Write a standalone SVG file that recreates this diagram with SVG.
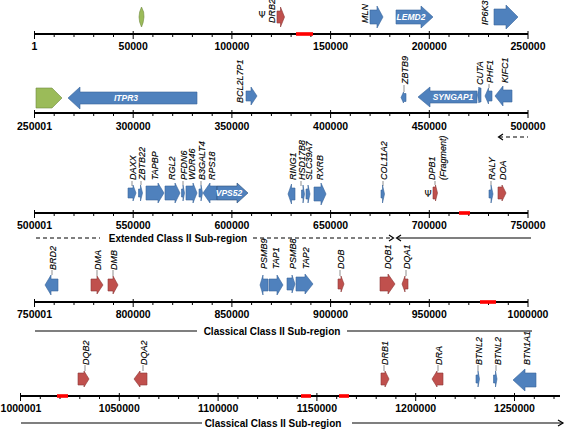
<svg xmlns="http://www.w3.org/2000/svg" width="567" height="430" viewBox="0 0 567 430">
<style>
.bg{fill:#fff}
.ax{stroke:#000;stroke-width:2;fill:none}
.tk{stroke:#000;stroke-width:1;fill:none}
.num{font-family:"Liberation Sans",Arial,sans-serif;font-weight:bold;font-size:10.5px;text-anchor:middle;fill:#000}
.lab{font-family:"Liberation Sans",Arial,sans-serif;font-style:italic;font-size:9px;fill:#000;stroke:#000;stroke-width:0.15}
.in{font-family:"Liberation Sans",Arial,sans-serif;font-style:italic;font-weight:bold;font-size:8.5px;fill:#fff;text-anchor:middle}
.psi{font-family:"DejaVu Sans",sans-serif;font-size:9px;text-anchor:middle;fill:#000}
.reg{font-family:"Liberation Sans",Arial,sans-serif;font-weight:bold;font-size:10px;text-anchor:middle;fill:#000}
.b{fill:#4F81BD;stroke:#3A679C;stroke-width:0.6}
.r{fill:#C0504D;stroke:#8C3836;stroke-width:0.6}
.g{fill:#9BBB59;stroke:#71893F;stroke-width:0.6}
.rb{fill:#FF0000}
.ld{stroke:#444;stroke-width:0.6}
.sl{stroke:#000;stroke-width:1.2;fill:none}
.ds{stroke:#000;stroke-width:1.2;fill:none;stroke-dasharray:4 3}
</style>
<defs>
<g id="scale">
<path class="ax" d="M34.5,0 H528"/>
<path class="tk" d="M34.5,-3 v8 M133.2,-3 v8 M231.9,-3 v8 M330.6,-3 v8 M429.3,-3 v8 M528,-3 v8 M54.2,0 v3 M74,0 v3 M93.7,0 v3 M113.5,0 v3 M152.9,0 v3 M172.7,0 v3 M192.4,0 v3 M212.2,0 v3 M251.6,0 v3 M271.4,0 v3 M291.1,0 v3 M310.9,0 v3 M350.3,0 v3 M370.1,0 v3 M389.8,0 v3 M409.6,0 v3 M449,0 v3 M468.8,0 v3 M488.5,0 v3 M508.3,0 v3"/>
</g>
</defs>
<rect class="bg" x="0" y="0" width="567" height="430"/>

<g id="axes">
<use href="#scale" transform="translate(0,34)"/>
<use href="#scale" transform="translate(0,113)"/>
<use href="#scale" transform="translate(0,213)"/>
<use href="#scale" transform="translate(0,302)"/>
<path class="ax" d="M20.5,396 H560"/>
<path class="tk" d="M20.5,393 v8 M119.3,393 v8 M218.1,393 v8 M316.9,393 v8 M415.7,393 v8 M514.5,393 v8 M40.3,396 v3 M60,396 v3 M79.8,396 v3 M99.5,396 v3 M139.1,396 v3 M158.8,396 v3 M178.6,396 v3 M198.3,396 v3 M237.9,396 v3 M257.6,396 v3 M277.4,396 v3 M297.1,396 v3 M336.7,396 v3 M356.4,396 v3 M376.2,396 v3 M395.9,396 v3 M435.5,396 v3 M455.2,396 v3 M475,396 v3 M494.7,396 v3 M534.3,396 v3 M554,396 v3"/>
</g>

<g id="numbers">
<text class="num" x="34.5" y="50">1</text>
<text class="num" x="133.2" y="50">50000</text>
<text class="num" x="231.9" y="50">100000</text>
<text class="num" x="330.6" y="50">150000</text>
<text class="num" x="429.3" y="50">200000</text>
<text class="num" x="528" y="50">250000</text>
<text class="num" x="34.5" y="130">250001</text>
<text class="num" x="133.2" y="130">300000</text>
<text class="num" x="231.9" y="130">350000</text>
<text class="num" x="330.6" y="130">400000</text>
<text class="num" x="429.3" y="130">450000</text>
<text class="num" x="528" y="130">500000</text>
<text class="num" x="34.5" y="229">500001</text>
<text class="num" x="133.2" y="229">550000</text>
<text class="num" x="231.9" y="229">600000</text>
<text class="num" x="330.6" y="229">650000</text>
<text class="num" x="429.3" y="229">700000</text>
<text class="num" x="528" y="229">750000</text>
<text class="num" x="34.5" y="318">750001</text>
<text class="num" x="133.2" y="318">800000</text>
<text class="num" x="231.9" y="318">850000</text>
<text class="num" x="330.6" y="318">900000</text>
<text class="num" x="429.3" y="318">950000</text>
<text class="num" x="528" y="318">1000000</text>
<text class="num" x="21" y="412">1000001</text>
<text class="num" x="119.3" y="412">1050000</text>
<text class="num" x="218.1" y="412">1100000</text>
<text class="num" x="316.9" y="412">1150000</text>
<text class="num" x="415.7" y="412">1200000</text>
<text class="num" x="514.5" y="412">1250000</text>
</g>

<g id="redbars">
<rect class="rb" x="296" y="32.2" width="17" height="3.6"/>
<rect class="rb" x="459" y="211.2" width="11" height="3.6"/>
<rect class="rb" x="480" y="300.2" width="16" height="3.6"/>
<rect class="rb" x="57" y="394.2" width="11" height="3.6"/>
<rect class="rb" x="301" y="394.2" width="10" height="3.6"/>
<rect class="rb" x="339" y="394.2" width="10" height="3.6"/>
</g>

<!-- Row 1 -->
<g id="g-green1"><path class="g" d="M141.5,7 Q144.5,12 144,17 Q143.5,23 141.5,27 Q139,22 139,17 Q139,12 141.5,7 Z"/></g>
<g id="g-DRB2">
<text class="psi" x="262" y="18">Ψ</text>
<text class="lab" transform="translate(275,23) rotate(-90)">DRB2</text>
<polygon class="r" points="277,11 280.5,11 280.5,7 284.5,17 280.5,27 280.5,23 277,23"/>
</g>
<g id="g-MLN">
<text class="lab" transform="translate(367.5,23) rotate(-90)">MLN</text>
<polygon class="b" points="370,10 377,10 377,6 383,17 377,28 377,24 370,24"/>
</g>
<g id="g-LEMD2">
<polygon class="b" points="396,10 421,10 421,6 433,17 421,28 421,24 396,24"/>
<text class="in" x="411" y="20">LEMD2</text>
</g>
<g id="g-IP6K3">
<text class="lab" transform="translate(487.5,25) rotate(-90)">IP6K3</text>
<polygon class="b" points="494,9 506,9 506,5 518,17 506,29 506,25 494,25"/>
</g>

<!-- Row 2 -->
<g id="g-green2"><path class="g" d="M36,88 L52,88 L62,98 L52,108 L36,108 Z"/></g>
<g id="g-ITPR3">
<polygon class="b" points="68,98 80,87 80,92 197,92 197,104 80,104 80,109"/>
<text class="in" x="126" y="101">ITPR3</text>
</g>
<g id="g-BCL2L7P1">
<text class="lab" transform="translate(242.5,103) rotate(-90)">BCL2L7P1</text>
<polygon class="b" points="246,91 251,91 251,87 257,96 251,105 251,101 246,101"/>
</g>
<g id="g-ZBTB9">
<text class="lab" transform="translate(407.5,84) rotate(-90)">ZBTB9</text>
<line class="ld" x1="404" y1="85" x2="404" y2="92"/>
<polygon class="b" points="401,97.5 403.5,92 403.5,93.5 406,93.5 406,101.5 403.5,101.5 403.5,103"/>
</g>
<g id="g-SYNGAP1">
<polygon class="b" points="418,97 430,87 430,91 477,91 477,103 430,103 430,107"/>
<text class="in" x="453" y="100">SYNGAP1</text>
</g>
<g id="g-CUTA">
<text class="lab" transform="translate(482.5,85) rotate(-90)">CUTA</text>
<polygon class="b" points="477.5,95 479,87 479,88 481,88 481,102 479,102 479,103"/>
</g>
<g id="g-PHF1">
<text class="lab" transform="translate(492.5,83) rotate(-90)">PHF1</text>
<line class="ld" x1="489" y1="84" x2="489" y2="88"/>
<polygon class="b" points="485,96 488.5,88 488.5,91 492,91 492,101 488.5,101 488.5,104"/>
</g>
<g id="g-KIFC1">
<text class="lab" transform="translate(507.5,83) rotate(-90)">KIFC1</text>
<polygon class="b" points="495,96 503,86 503,90 512,90 512,102 503,102 503,106"/>
</g>

<!-- Row 3 -->
<g id="g-DAXX">
<text class="lab" transform="translate(135.5,180) rotate(-90)">DAXX</text>
<line class="ld" x1="132" y1="181" x2="132" y2="186"/>
<polygon class="b" points="128,188 133,188 133,185 136,193 133,201 133,198 128,198"/>
</g>
<g id="g-ZBTB22">
<text class="lab" transform="translate(144.5,180) rotate(-90)">ZBTB22</text>
<line class="ld" x1="141" y1="181" x2="141" y2="185"/>
<polygon class="b" points="138.5,189 140.5,189 140.5,185 142.5,193 140.5,201 140.5,197 138.5,197"/>
</g>
<g id="g-TAPBP">
<text class="lab" transform="translate(157.5,180) rotate(-90)">TAPBP</text>
<polygon class="b" points="146,186 158,186 158,183 164,193 158,203 158,200 146,200"/>
</g>
<g id="g-RGL2">
<text class="lab" transform="translate(174.5,180) rotate(-90)">RGL2</text>
<polygon class="b" points="165,186 175,186 175,183 180,193 175,203 175,200 165,200"/>
</g>
<g id="g-PFDN6">
<text class="lab" transform="translate(186.5,180) rotate(-90)">PFDN6</text>
<line class="ld" x1="183" y1="181" x2="183" y2="185"/>
<polygon class="b" points="181.5,189 183,189 183,185 184.5,193 183,201 183,197 181.5,197"/>
</g>
<g id="g-WDR46">
<text class="lab" transform="translate(194.5,180) rotate(-90)">WDR46</text>
<polygon class="b" points="186,186 193,186 193,183 197,193 193,203 193,200 186,200"/>
</g>
<g id="g-B3GALT4">
<text class="lab" transform="translate(204.5,180) rotate(-90)">B3GALT4</text>
<line class="ld" x1="201" y1="181" x2="201" y2="185"/>
<polygon class="b" points="199,189 201,189 201,185 202.5,193 201,201 201,197 199,197"/>
</g>
<g id="g-RPS18">
<text class="lab" transform="translate(214.5,180) rotate(-90)">RPS18</text>
<polygon class="b" points="203,193 210,183 210,186 217,186 217,200 210,200 210,203"/>
</g>
<g id="g-VPS52">
<polygon class="b" points="217,186 237,186 237,183 248,193 237,203 237,200 217,200" style="stroke:#2C4D75"/>
<text class="in" x="229" y="196">VPS52</text>
</g>
<g id="g-RING1">
<text class="lab" transform="translate(295.5,180) rotate(-90)">RING1</text>
<polygon class="b" points="288,194 291.5,184 291.5,188 295,188 295,200 291.5,200 291.5,204"/>
</g>
<g id="g-HSD17B8">
<text class="lab" transform="translate(304.5,180) rotate(-90)">HSD17B8</text>
<line class="ld" x1="301" y1="181" x2="301" y2="186"/>
<polygon class="b" points="301.5,190 303,190 303,185 304.5,194 303,203 303,198 301.5,198"/>
</g>
<g id="g-SLC39A7">
<text class="lab" transform="translate(311.5,180) rotate(-90)">SLC39A7</text>
<polygon class="b" points="306,189 308,189 308,185 310,194 308,203 308,199 306,199"/>
</g>
<g id="g-RXRB">
<text class="lab" transform="translate(322.5,180) rotate(-90)">RXRB</text>
<polygon class="b" points="314,187 321,187 321,183 326,194 321,205 321,201 314,201"/>
</g>
<g id="g-COL11A2">
<text class="lab" transform="translate(386.5,180) rotate(-90)">COL11A2</text>
<line class="ld" x1="383" y1="181" x2="383" y2="186"/>
<polygon class="b" points="381,190 382.5,190 382.5,185 384.5,194 382.5,203 382.5,198 381,198"/>
</g>
<g id="g-DPB1">
<text class="psi" x="428" y="197">Ψ</text>
<text class="lab" transform="translate(434.5,180) rotate(-90)">DPB1</text>
<text class="lab" transform="translate(445.5,180) rotate(-90)">(Fragment)</text>
<line class="ld" x1="435" y1="181" x2="435" y2="185"/>
<polygon class="r" points="433,187 435.5,187 435.5,185 437.5,193 435.5,201 435.5,199 433,199"/>
</g>
<g id="g-RALY">
<text class="lab" transform="translate(494.5,180) rotate(-90)">RALY</text>
<line class="ld" x1="491" y1="181" x2="491" y2="185"/>
<polygon class="b" points="489,190 491,190 491,185 493,194 491,203 491,198 489,198"/>
</g>
<g id="g-DOA">
<text class="lab" transform="translate(505.5,180) rotate(-90)">DOA</text>
<polygon class="r" points="498,187 502,187 502,185 506,193 502,201 502,199 498,199"/>
</g>

<!-- Row 4 -->
<g id="g-BRD2">
<text class="lab" transform="translate(55.5,270) rotate(-90)">BRD2</text>
<line class="ld" x1="52" y1="270" x2="52" y2="275"/>
<polygon class="b" points="45,285 51,275 51,279 58,279 58,291 51,291 51,295"/>
</g>
<g id="g-DMA">
<text class="lab" transform="translate(100.5,270) rotate(-90)">DMA</text>
<line class="ld" x1="97" y1="270" x2="97" y2="276"/>
<polygon class="r" points="91,279 97,279 97,276 103,285 97,294 97,291 91,291"/>
</g>
<g id="g-DMB">
<text class="lab" transform="translate(116.5,270) rotate(-90)">DMB</text>
<line class="ld" x1="113" y1="270" x2="113" y2="276"/>
<polygon class="r" points="108,279 113,279 113,276 118,285 113,294 113,291 108,291"/>
</g>
<g id="g-PSMB9">
<text class="lab" transform="translate(266.5,269) rotate(-90)">PSMB9</text>
<polygon class="b" points="260,285 263,275 263,279 268,279 268,291 263,291 263,295"/>
</g>
<g id="g-TAP1">
<text class="lab" transform="translate(278.5,269) rotate(-90)">TAP1</text>
<polygon class="b" points="269,279 277,279 277,275 283,285 277,295 277,291 269,291"/>
</g>
<g id="g-PSMB8">
<text class="lab" transform="translate(295.5,269) rotate(-90)">PSMB8</text>
<polygon class="b" points="287,278 292,278 292,275 295,284 292,293 292,290 287,290"/>
</g>
<g id="g-TAP2">
<text class="lab" transform="translate(308.5,269) rotate(-90)">TAP2</text>
<polygon class="b" points="296,277 305,277 305,274 313,284 305,294 305,291 296,291"/>
</g>
<g id="g-DOB">
<text class="lab" transform="translate(343.5,269) rotate(-90)">DOB</text>
<line class="ld" x1="340" y1="270" x2="340" y2="276"/>
<polygon class="r" points="338,279 341,279 341,276 344,284 341,292 341,289 338,289"/>
</g>
<g id="g-DQB1">
<text class="lab" transform="translate(390.5,269) rotate(-90)">DQB1</text>
<polygon class="r" points="380,277 388,277 388,274 395,284 388,294 388,291 380,291"/>
</g>
<g id="g-DQA1">
<text class="lab" transform="translate(409.5,269) rotate(-90)">DQA1</text>
<line class="ld" x1="406" y1="270" x2="406" y2="276"/>
<polygon class="r" points="402,284 405,276 405,279 408,279 408,289 405,289 405,292"/>
</g>

<!-- Row 5 -->
<g id="g-DQB2">
<text class="lab" transform="translate(88.5,365) rotate(-90)">DQB2</text>
<line class="ld" x1="85" y1="365" x2="85" y2="371"/>
<polygon class="r" points="78,373 84,373 84,371 89,379 84,387 84,385 78,385"/>
</g>
<g id="g-DQA2">
<text class="lab" transform="translate(146.5,365) rotate(-90)">DQA2</text>
<line class="ld" x1="143" y1="365" x2="143" y2="371"/>
<polygon class="r" points="134,379 140,371 140,373 147,373 147,385 140,385 140,387"/>
</g>
<g id="g-DRB1">
<text class="lab" transform="translate(387.5,365) rotate(-90)">DRB1</text>
<line class="ld" x1="384" y1="365" x2="384" y2="371"/>
<polygon class="r" points="381,373 385,373 385,371 389,379 385,387 385,385 381,385"/>
</g>
<g id="g-DRA">
<text class="lab" transform="translate(441.5,365) rotate(-90)">DRA</text>
<line class="ld" x1="438" y1="365" x2="438" y2="371"/>
<polygon class="r" points="432,379 437,371 437,373 443,373 443,385 437,385 437,387"/>
</g>
<g id="g-BTNL2a">
<text class="lab" transform="translate(481.5,365) rotate(-90)">BTNL2</text>
<line class="ld" x1="478" y1="365" x2="478" y2="371"/>
<polygon class="b" points="476,375 478,375 478,371 479.5,379 478,387 478,383 476,383"/>
</g>
<g id="g-BTNL2b">
<text class="lab" transform="translate(500.5,365) rotate(-90)">BTNL2</text>
<line class="ld" x1="496" y1="365" x2="496" y2="371"/>
<polygon class="b" points="493.5,375 495.5,375 495.5,371 497,379 495.5,387 495.5,383 493.5,383"/>
</g>
<g id="g-BTN1A1">
<text class="lab" transform="translate(529.5,365) rotate(-90)">BTN1A1</text>
<polygon class="b" points="513,380 525,369 525,373 536,373 536,387 525,387 525,391"/>
</g>

<!-- Region annotations -->
<g id="connectors">
<path class="ds" d="M499,137 H528"/>
<path class="sl" d="M503,134 L498.5,137 L503,140"/>
<path class="ds" d="M36,238 H100"/>
<path class="ds" d="M253,238 H392"/>
<path class="sl" d="M389,235 L393.5,238 L389,241"/>
<path class="sl" d="M401,235 L396.5,238 L401,241"/>
<path class="sl" d="M397,238 H531"/>
<path class="sl" d="M35,331 H197"/>
<path class="sl" d="M347,331 H532"/>
<path class="sl" d="M21,423 H202"/>
<path class="sl" d="M352,423 H563"/>
<path class="sl" d="M558,420 L563,423 L558,426"/>
</g>
<g id="region-labels">
<text class="reg" x="178" y="242">Extended Class II Sub-region</text>
<text class="reg" x="272" y="335">Classical Class II Sub-region</text>
<text class="reg" x="273" y="427">Classical Class II Sub-region</text>
</g>
</svg>
